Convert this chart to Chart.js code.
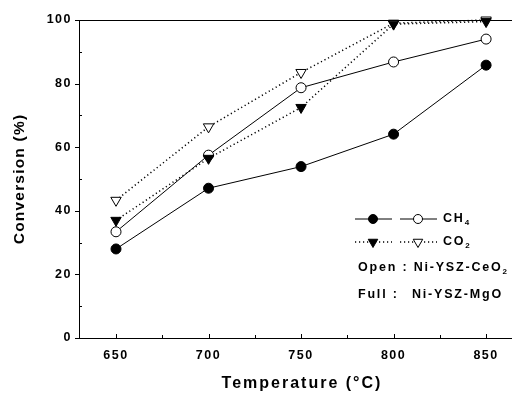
<!DOCTYPE html>
<html>
<head>
<meta charset="utf-8">
<script src="https://cdn.jsdelivr.net/npm/chart.js@4/dist/chart.umd.min.js"></script>
<style>
  html, body { margin: 0; padding: 0; background: #fff; overflow: hidden; }
  #wrap { width: 512px; height: 394px; }
</style>
</head>
<body>
<div id="wrap"><canvas id="chart"></canvas></div>
<script>
// temperatures (x) and conversions (%)
const temps = [650, 700, 750, 800, 850];
const ch4MgO = [28.0, 47.1, 53.9, 64.1, 85.8];
const ch4CeO2 = [33.4, 57.5, 78.7, 86.8, 94.0];
const co2MgO = [37.0, 56.5, 72.5, 98.7, 99.5];
const co2CeO2 = [43.3, 66.4, 83.5, 99.0, 100.0];

const xTicks = [650, 700, 750, 800, 850];
const xMinor = [675, 725, 775, 825];
const yTicks = [0, 20, 40, 60, 80, 100];
const yMinor = [10, 30, 50, 70, 90];

const FONT = "'Liberation Sans', Arial, sans-serif";

function pts(vals) {
  return temps.map((t, i) => ({ x: t, y: vals[i] }));
}

const dotted = [1.2, 2.8];

// ticks, top frame line, axis titles and the custom legend
const decorPlugin = {
  id: "decor",
  beforeDraw(chart) {
    chart.ctx.letterSpacing = "1.5px";
  },
  afterDraw(chart) {
    const ctx = chart.ctx;
    const a = chart.chartArea;
    const xs = chart.scales.x, ys = chart.scales.y;
    ctx.save();
    ctx.strokeStyle = "#000";
    ctx.lineWidth = 1;
    ctx.setLineDash([]);
    ctx.beginPath();
    ctx.moveTo(a.left, a.top + 0.5);
    ctx.lineTo(a.right, a.top + 0.5);
    xTicks.forEach(v => {
      const p = Math.round(xs.getPixelForValue(v)) + 0.5;
      ctx.moveTo(p, a.bottom); ctx.lineTo(p, a.bottom - 4);
    });
    xMinor.forEach(v => {
      const p = Math.round(xs.getPixelForValue(v)) + 0.5;
      ctx.moveTo(p, a.bottom); ctx.lineTo(p, a.bottom - 3);
    });
    yTicks.forEach(v => {
      const p = Math.round(ys.getPixelForValue(v)) + 0.5;
      ctx.moveTo(a.left, p); ctx.lineTo(a.left - 4, p);
    });
    yMinor.forEach(v => {
      const p = Math.round(ys.getPixelForValue(v)) + 0.5;
      ctx.moveTo(a.left, p); ctx.lineTo(a.left + 3, p);
    });
    ctx.stroke();

    // axis titles
    ctx.fillStyle = "#000";
    ctx.textBaseline = "middle";
    ctx.textAlign = "center";
    ctx.letterSpacing = "2px";
    ctx.font = "bold 16px " + FONT;
    ctx.fillText("Temperature (\u00B0C)", 302, 384);
    ctx.save();
    ctx.translate(20, 179);
    ctx.rotate(-Math.PI / 2);
    ctx.font = "bold 15.5px " + FONT;
    ctx.letterSpacing = "1.2px";
    ctx.fillText("Conversion (%)", 0, 0);
    ctx.restore();

    // legend
    const row1 = 219, row2 = 242;
    const drawSeg = (x1, x2, y, dash) => {
      ctx.beginPath();
      ctx.setLineDash(dash);
      ctx.lineWidth = dash.length ? 1.5 : 1;
      ctx.moveTo(x1, y); ctx.lineTo(x2, y);
      ctx.stroke();
      ctx.setLineDash([]);
      ctx.lineWidth = 1;
    };
    drawSeg(355, 392, row1, []);
    drawSeg(400, 437, row1, []);
    drawSeg(355, 392, row2, dotted);
    drawSeg(400, 437, row2, dotted);
    const mk = (style, x, y, fill, r) => {
      ctx.fillStyle = fill;
      ctx.strokeStyle = "#000";
      Chart.helpers.drawPoint(ctx, { pointStyle: style, radius: r, rotation: style === "triangle" ? 180 : 0, borderWidth: 1 }, x, y);
    };
    mk("circle", 373, row1, "#000", 4.5);
    mk("circle", 418, row1, "#fff", 4.5);
    mk("triangle", 373, row2, "#000", 5.5);
    mk("triangle", 418, row2, "#fff", 5.5);

    ctx.fillStyle = "#000";
    ctx.textAlign = "left";
    ctx.letterSpacing = "1.8px";
    const sub = (main, s, x, y) => {
      ctx.font = "bold 12.5px " + FONT;
      ctx.fillText(main, x, y);
      const w = ctx.measureText(main).width;
      ctx.font = "bold 8px " + FONT;
      ctx.fillText(s, x + w, y + 4);
    };
    sub("CH", "4", 443, row1);
    sub("CO", "2", 443, row2);
    sub("Open : Ni-YSZ-CeO", "2", 358, 268);
    ctx.font = "bold 12.5px " + FONT;
    ctx.fillText("Full :", 358, 295);
    ctx.fillText("Ni-YSZ-MgO", 412, 295);
    ctx.restore();
  }
};

// first dataset is painted last (on top)
new Chart(document.getElementById("chart"), {
  type: "line",
  data: {
    datasets: [
      {
        label: "CO2 Ni-YSZ-MgO",
        data: pts(co2MgO),
        borderColor: "#000", borderWidth: 1.5, borderDash: dotted,
        pointStyle: "triangle", pointRotation: 180, pointRadius: 6,
        pointBackgroundColor: "#000", pointBorderColor: "#000", pointBorderWidth: 1
      },
      {
        label: "CO2 Ni-YSZ-CeO2",
        data: pts(co2CeO2),
        borderColor: "#000", borderWidth: 1.5, borderDash: dotted,
        pointStyle: "triangle", pointRotation: 180, pointRadius: 6,
        pointBackgroundColor: "#fff", pointBorderColor: "#000", pointBorderWidth: 1
      },
      {
        label: "CH4 Ni-YSZ-CeO2",
        data: pts(ch4CeO2),
        borderColor: "#000", borderWidth: 1,
        pointStyle: "circle", pointRadius: 5,
        pointBackgroundColor: "#fff", pointBorderColor: "#000", pointBorderWidth: 1
      },
      {
        label: "CH4 Ni-YSZ-MgO",
        data: pts(ch4MgO),
        borderColor: "#000", borderWidth: 1,
        pointStyle: "circle", pointRadius: 5,
        pointBackgroundColor: "#000", pointBorderColor: "#000", pointBorderWidth: 1
      }
    ]
  },
  options: {
    responsive: true,
    maintainAspectRatio: false,
    animation: false,
    clip: false,
    layout: { autoPadding: false, padding: { top: 20, right: 0, left: 0, bottom: 0 } },
    plugins: { legend: { display: false }, tooltip: { enabled: false } },
    elements: { line: { tension: 0 } },
    scales: {
      x: {
        type: "linear",
        min: 630, max: 864,
        afterBuildTicks: s => { s.ticks = xTicks.map(v => ({ value: v })); },
        afterFit: s => { s.height = 56; s.paddingLeft = 0; s.paddingRight = 0; },
        grid: { display: false, drawTicks: false },
        border: { display: true, color: "#000", width: 1 },
        ticks: { color: "#000", font: { family: FONT, size: 12.5, weight: "bold" }, padding: 10 }
      },
      y: {
        min: 0, max: 100,
        afterBuildTicks: s => { s.ticks = yTicks.map(v => ({ value: v })); },
        afterFit: s => { s.width = 79; s.paddingTop = 0; s.paddingBottom = 0; },
        grid: { display: false, drawTicks: false },
        border: { display: true, color: "#000", width: 1 },
        ticks: { color: "#000", font: { family: FONT, size: 12.5, weight: "bold" }, padding: 7 }
      }
    }
  },
  plugins: [decorPlugin]
});
</script>
</body>
</html>
